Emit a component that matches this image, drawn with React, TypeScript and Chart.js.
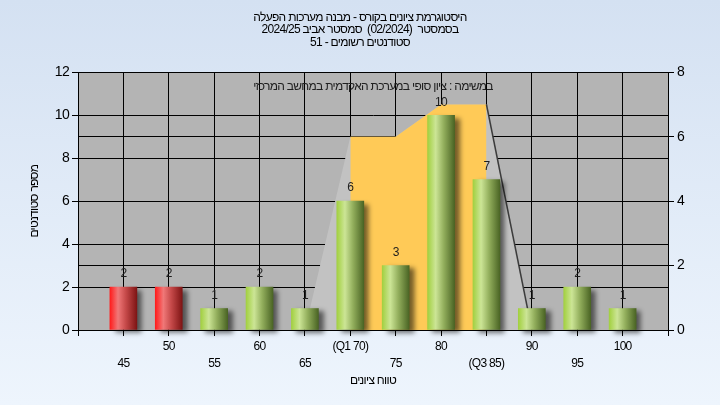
import { useEffect, useRef } from 'react';
import { Chart, registerables } from 'chart.js';

Chart.register(...registerables);

const titleLines = [
  'היסטוגרמת ציונים בקורס - מבנה מערכות הפעלה',
  'בסמסטר  (02/2024)  סמסטר אביב 2024/25',
  'סטודנטים רשומים - 51',
];
const innerNote = 'במשימה : ציון סופי במערכת האקדמית במחשב המרכזי';
const xTitle = 'טווח ציונים';
const yTitle = 'מספר סטודנטים';

const grades = [45, 50, 55, 60, 65, 70, 75, 80, 85, 90, 95, 100];
const gradeLabels = ['45', '50', '55', '60', '65', '(Q1 70)', '75', '80', '(Q3 85)', '90', '95', '100'];
const studentCounts = [2, 2, 1, 2, 1, 6, 3, 10, 7, 1, 2, 1];
const passingGrade = 55;

const envelopeGrades = [65, 70, 75, 80, 85, 90];
const envelopeValues = [0, 6, 6, 7, 7, 0];
const quartileGrades = [70, 75, 80, 85];
const quartileValues = [6, 6, 7, 7];
const edgeGrades = [85, 90];
const edgeValues = [7, 0];

const FONT = '"Liberation Sans", "DejaVu Sans", Arial, sans-serif';
const LETTER_SPACING = '-0.7px';

const barFill = (c: any) => {
  const chart = c.chart;
  const idx = c.dataIndex;
  if (idx === undefined) return '#90b848';
  const g = grades[idx];
  const fail = g < passingGrade;
  const xs = chart.scales && chart.scales.x;
  if (!chart.chartArea || !xs) return fail ? '#e02020' : '#90b848';
  const px = xs.getPixelForValue(g);
  const half = 13.5;
  const grad = chart.ctx.createLinearGradient(px - half, 0, px + half, 0);
  if (fail) {
    grad.addColorStop(0, '#ff1c1c');
    grad.addColorStop(0.3, '#f07878');
    grad.addColorStop(0.6, '#c44848');
    grad.addColorStop(1, '#7e1414');
  } else {
    grad.addColorStop(0, '#a2d040');
    grad.addColorStop(0.3, '#cce596');
    grad.addColorStop(0.6, '#92ae5c');
    grad.addColorStop(1, '#4a6424');
  }
  return grad;
};

const spacingPlugin = {
  id: 'letterSpacing',
  beforeUpdate(chart: any) {
    (chart.ctx as any).letterSpacing = LETTER_SPACING;
  },
  beforeDraw(chart: any) {
    (chart.ctx as any).letterSpacing = LETTER_SPACING;
  },
};

const backgroundPlugin = {
  id: 'bgPaint',
  beforeDraw(chart: any) {
    const { ctx, width, height, chartArea } = chart;
    ctx.save();
    const g = ctx.createLinearGradient(0, 0, 0, height);
    g.addColorStop(0, '#d4e1f2');
    g.addColorStop(1, '#eef5fd');
    ctx.fillStyle = g;
    ctx.fillRect(0, 0, width, height);
    if (chartArea) {
      ctx.fillStyle = '#b4b4b4';
      ctx.fillRect(chartArea.left, chartArea.top, chartArea.right - chartArea.left, chartArea.bottom - chartArea.top);
    }
    ctx.restore();
  },
};

const shadowPlugin = {
  id: 'barShadow',
  beforeDatasetDraw(chart: any, args: any) {
    if (args.meta.type !== 'bar') return;
    const ctx = chart.ctx;
    ctx.save();
    ctx.shadowColor = 'rgba(0,0,0,0.55)';
    ctx.shadowBlur = 5;
    ctx.shadowOffsetX = 5;
    ctx.shadowOffsetY = 3;
  },
  afterDatasetDraw(chart: any, args: any) {
    if (args.meta.type !== 'bar') return;
    chart.ctx.restore();
  },
};

const labelPlugin = {
  id: 'barLabels',
  afterDatasetsDraw(chart: any) {
    const ctx = chart.ctx;
    const meta = chart.getDatasetMeta(0);
    ctx.save();
    ctx.font = `12px ${FONT}`;
    ctx.fillStyle = '#1e1e1e';
    ctx.textAlign = 'center';
    ctx.textBaseline = 'middle';
    meta.data.forEach((el: any, i: number) => {
      ctx.fillText(String(studentCounts[i]), el.x, el.y - 13);
    });
    const area = chart.chartArea;
    ctx.fillStyle = '#202020';
    ctx.fillText(innerNote, (area.left + area.right) / 2, area.top + 14);
    ctx.restore();
  },
};

export default function App() {
  const ref = useRef<HTMLCanvasElement | null>(null);

  useEffect(() => {
    if (!ref.current) return;
    const chart = new Chart(ref.current, {
      type: 'bar',
      data: {
        datasets: [
          {
            type: 'bar',
            data: grades.map((g, i) => ({ x: g, y: studentCounts[i] })),
            backgroundColor: barFill,
            borderWidth: 0,
            barThickness: 27,
            clip: false,
            xAxisID: 'x',
            yAxisID: 'y',
            order: 0,
          } as any,
          {
            type: 'line',
            data: edgeGrades.map((g, i) => ({ x: g, y: edgeValues[i] })),
            borderColor: '#3c3c3c',
            borderWidth: 1.5,
            pointRadius: 0,
            fill: false,
            tension: 0,
            xAxisID: 'x',
            yAxisID: 'y1',
            order: 1,
          } as any,
          {
            type: 'line',
            data: quartileGrades.map((g, i) => ({ x: g, y: quartileValues[i] })),
            backgroundColor: '#ffca57',
            borderColor: 'rgba(0,0,0,0)',
            borderWidth: 0,
            pointRadius: 0,
            fill: 'origin',
            tension: 0,
            xAxisID: 'x',
            yAxisID: 'y1',
            order: 2,
          } as any,
          {
            type: 'line',
            data: envelopeGrades.map((g, i) => ({ x: g, y: envelopeValues[i] })),
            backgroundColor: '#c2c2c2',
            borderColor: 'rgba(0,0,0,0)',
            borderWidth: 0,
            pointRadius: 0,
            fill: 'origin',
            tension: 0,
            xAxisID: 'x',
            yAxisID: 'y1',
            order: 3,
          } as any,
        ],
      },
      options: {
        animation: false,
        responsive: false,
        maintainAspectRatio: false,
        devicePixelRatio: 1,
        events: [],
        layout: { padding: 0 },
        font: { family: FONT },
        plugins: {
          legend: { display: false },
          tooltip: { enabled: false },
          title: {
            display: true,
            text: titleLines,
            color: '#000',
            font: { family: FONT, size: 12, weight: 'normal', lineHeight: 1.05 },
            padding: { top: 11, bottom: 23.5 },
          },
        },
        scales: {
          x: {
            type: 'linear',
            position: 'bottom',
            min: 40,
            max: 105,
            offset: false,
            grid: { offset: false, color: '#000', lineWidth: 1, tickLength: 6, tickColor: '#000' },
            border: { color: '#000', width: 1 },
            ticks: {
              stepSize: 5,
              autoSkip: false,
              maxRotation: 0,
              minRotation: 0,
              padding: 2,
              color: '#000',
              font: { family: FONT, size: 12, lineHeight: 1.4 },
              callback: (value: any) => {
                const idx = grades.indexOf(Number(value));
                if (idx < 0) return '';
                return idx % 2 === 0 ? ['', gradeLabels[idx]] : gradeLabels[idx];
              },
            },
            title: {
              display: true,
              text: xTitle,
              color: '#000',
              font: { family: FONT, size: 12, lineHeight: 1.2 },
              padding: { top: 0, bottom: 16.8 },
            },
            afterFit: (s: any) => {
              s.height = 75;
            },
          },
          y: {
            type: 'linear',
            position: 'left',
            min: 0,
            max: 12,
            grid: { color: '#000', lineWidth: 1, tickLength: 6, tickColor: '#000' },
            border: { color: '#000', width: 1 },
            ticks: {
              stepSize: 2,
              padding: 3,
              color: '#000',
              font: { family: FONT, size: 14 },
            },
            title: {
              display: true,
              text: yTitle,
              color: '#000',
              font: { family: FONT, size: 12, lineHeight: 1.2 },
              padding: { top: 27.8, bottom: 0 },
            },
            afterFit: (s: any) => {
              s.width = 78;
            },
          },
          y1: {
            type: 'linear',
            position: 'right',
            min: 0,
            max: 8,
            grid: { color: '#000', lineWidth: 1, tickLength: 6, tickColor: '#000', drawOnChartArea: true },
            border: { color: '#000', width: 1 },
            ticks: {
              stepSize: 2,
              padding: 3,
              color: '#000',
              font: { family: FONT, size: 14 },
            },
            afterFit: (s: any) => {
              s.width = 52;
            },
          },
        },
      } as any,
      plugins: [spacingPlugin, backgroundPlugin, shadowPlugin, labelPlugin],
    });
    return () => chart.destroy();
  }, []);

  return (
    <div style={{ position: 'fixed', left: 0, top: 0, width: 720, height: 405 }}>
      <canvas ref={ref} width={720} height={405} dir="rtl" style={{ display: 'block' }} />
    </div>
  );
}
